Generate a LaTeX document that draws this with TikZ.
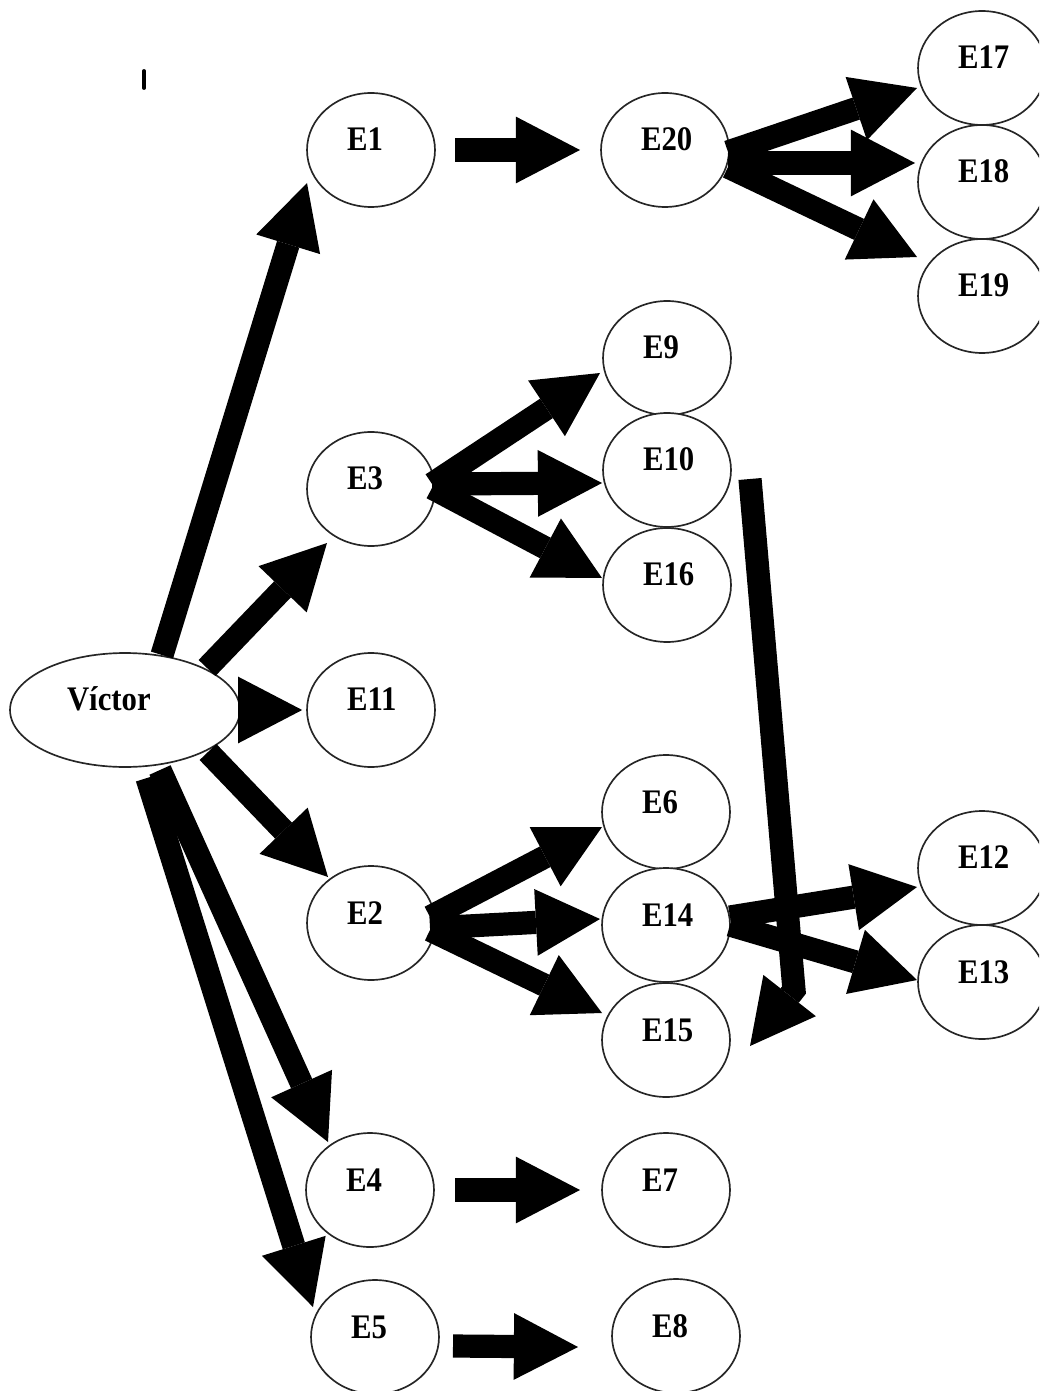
\documentclass[tikz,border=0pt]{standalone}
\usepackage{fontspec}
\usepackage{graphicx}
\setmainfont{Liberation Serif}
\usetikzlibrary{arrows.meta,shapes.geometric}
% node caption: left-aligned in a fixed box, slightly stretched vertically
\newcommand\stcap[2][0.96cm]{\makebox[#1][l]{\scalebox{1}[1.12]{#2}}}
\begin{document}
\begin{tikzpicture}[x=0.02cm,y=-0.02cm,
  state/.style={ellipse, draw=black!85, line width=0.95pt, fill=white,
    minimum width=2.56cm, minimum height=2.28cm, inner sep=0pt,
    text height=9pt, text depth=7.87pt,
    font=\fontsize{17.5pt}{20pt}\selectfont\bfseries},
  flow/.style={line width=13.2pt,
    -{Triangle[length=36.5pt,width=38pt,line width=0pt]}},
]
\useasboundingbox (0,0) rectangle (1039,1391);
\clip (0,0) rectangle (1039,1391);

% stray tick mark
\draw[line width=2.2pt, line cap=round] (144,71) -- (144,88);

% states
\node[state, minimum width=4.6cm] (Victor) at (125,710) {\stcap[2.32cm]{Víctor}};
\node[state] (E1)  at (371,150)  {\stcap{E1}};
\node[state] (E20) at (665,150)  {\stcap{E20}};
\node[state] (E17) at (982,68)   {\stcap{E17}};
\node[state] (E18) at (982,182)  {\stcap{E18}};
\node[state] (E19) at (982,296)  {\stcap{E19}};
\node[state] (E9)  at (667,358)  {\stcap{E9}};
\node[state] (E10) at (667,470)  {\stcap{E10}};
\node[state] (E16) at (667,585)  {\stcap{E16}};
\node[state] (E3)  at (371,489)  {\stcap{E3}};
\node[state] (E11) at (371,710)  {\stcap{E11}};
\node[state] (E6)  at (666,812)  {\stcap{E6}};
\node[state] (E14) at (666,925)  {\stcap{E14}};
\node[state] (E15) at (666,1040) {\stcap{E15}};
\node[state] (E12) at (982,868)  {\stcap{E12}};
\node[state] (E13) at (982,982)  {\stcap{E13}};
\node[state] (E2)  at (371,923)  {\stcap{E2}};
\node[state] (E4)  at (370,1190) {\stcap{E4}};
\node[state] (E7)  at (666,1190) {\stcap{E7}};
\node[state] (E5)  at (375,1337) {\stcap{E5}};
\node[state] (E8)  at (676,1336) {\stcap{E8}};

% arrows leaving Víctor
\draw[flow] ([shift={(37,-55)}]Victor.center) -- ([shift={(-64,33)}]E1.center);
\draw[flow] ([shift={(82,-42)}]Victor.center) -- ([shift={(-44,54)}]E3.center);
\draw[flow] (Victor.east) -- ([shift={(-4,0)}]E11.west);
\draw[flow] ([shift={(83,42)}]Victor.center) -- ([shift={(-43,-46)}]E2.center);
\draw[flow] ([shift={(35,60)}]Victor.center) -- ([shift={(-42,-48)}]E4.center);
\draw[flow] ([shift={(22,68)}]Victor.center) -- ([shift={(-62,-30)}]E5.center);

% upper branch
\draw[flow] ([shift={(84,0)}]E1.center) -- ([shift={(-85,0)}]E20.center);
\draw[flow] ([shift={(63,2)}]E20.center) -- ([shift={(-65,20)}]E17.center);
\draw[flow] ([shift={(63,13)}]E20.center) -- ([shift={(-67,-19)}]E18.center);
\draw[flow] ([shift={(63,17)}]E20.center) -- ([shift={(-65,-39)}]E19.center);

% E3 branch
\draw[flow] ([shift={(61,-5)}]E3.center) -- ([shift={(-67,15)}]E9.center);
\draw[flow] ([shift={(61,-5)}]E3.center) -- ([shift={(-65,13)}]E10.center);
\draw[flow] ([shift={(61,-1)}]E3.center) -- ([shift={(-65,-7)}]E16.center);

% E2 branch
\draw[flow] ([shift={(59,-6)}]E2.center) -- ([shift={(-64,15)}]E6.center);
\draw[flow] ([shift={(59,5)}]E2.center) -- ([shift={(-66,-6)}]E14.center);
\draw[flow] ([shift={(59,7)}]E2.center) -- ([shift={(-64,-27)}]E15.center);

% E14 branch
\draw[flow] ([shift={(64,-8)}]E14.center) -- ([shift={(-65,19)}]E12.center);
\draw[flow] ([shift={(64,0)}]E14.center) -- ([shift={(-65,-2)}]E13.center);

% E10 down to E15
\draw[flow] ([shift={(83,9)}]E10.center) -- ([shift={(128,-50)}]E15.center)
  -- ([shift={(84,6)}]E15.center);

% lower branches
\draw[flow] ([shift={(85,0)}]E4.center) -- ([shift={(-86,0)}]E7.center);
\draw[flow] ([shift={(78,9)}]E5.center) -- ([shift={(-98,11)}]E8.center);
\end{tikzpicture}
\end{document}
